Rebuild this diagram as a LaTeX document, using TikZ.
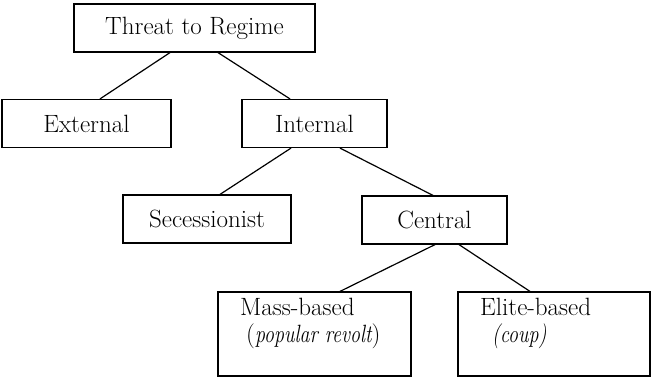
\documentclass[tikz,border=0pt]{standalone}
\usepackage{graphicx}
\usepackage{tikz}
\tikzset{
  catbox/.style={draw, line width=1.2pt, minimum width=#1, minimum height=48pt,
                 inner sep=0pt, font=\fontsize{25}{28}\selectfont},
  leafbox/.style={draw, line width=1.2pt, minimum width=#1, minimum height=84pt, inner sep=0pt},
  leaftext/.style={anchor=north west, align=left, inner sep=0pt, font=\fontsize{25}{27}\selectfont},
  branch/.style={line width=1.2pt}
}
% narrow italic, close to the original face
\newcommand{\narrowit}[1]{\scalebox{0.8}[1]{\itshape #1}}

\begin{document}
\begin{tikzpicture}[x=1pt, y=-1pt]
            \useasboundingbox (0,0) rectangle (651,378);
            % Top level
            \node[catbox=241pt] (threat)   at (194.5, 28.0) {Threat to Regime};
            % Second level
            \node[catbox=169pt] (external) at ( 86.5,123.5) {External};
            \node[catbox=145pt] (internal) at (314.5,123.5) {Internal};
            % Third level
            \node[catbox=168pt] (secess)   at (207.0,219.0) {Secessionist};
            \node[catbox=145pt] (central)  at (434.5,220.0) {Central};
            % Bottom level
            \node[leafbox=193pt] (mass)    at (314.5,334.0) {};
            \node[leafbox=192pt] (elite)   at (554.0,334.0) {};
            \node[leaftext] (masstext)  at (240,298) {Mass-based\\\hspace*{6pt}(\narrowit{popular revolt})};
            \node[leaftext] (elitetext) at (480,298) {Elite-based\\\hspace*{12pt}\narrowit{(coup)}};
            % Branches
            \draw[branch] ([xshift=-24.5pt]threat.south)   -- ([xshift= 13.5pt]external.north);
            \draw[branch] ([xshift= 23.5pt]threat.south)   -- ([xshift=-24.5pt]internal.north);
            \draw[branch] ([xshift=-23.5pt]internal.south) -- ([xshift= 13.0pt]secess.north);
            \draw[branch] ([xshift= 25.5pt]internal.south) -- ([xshift= -1.5pt]central.north);
            \draw[branch] ([xshift=  0.5pt]central.south)  -- ([xshift= 25.5pt]mass.north);
            \draw[branch] ([xshift= 24.5pt]central.south)  -- ([xshift=-24.0pt]elite.north);
        \end{tikzpicture}
\end{document}
